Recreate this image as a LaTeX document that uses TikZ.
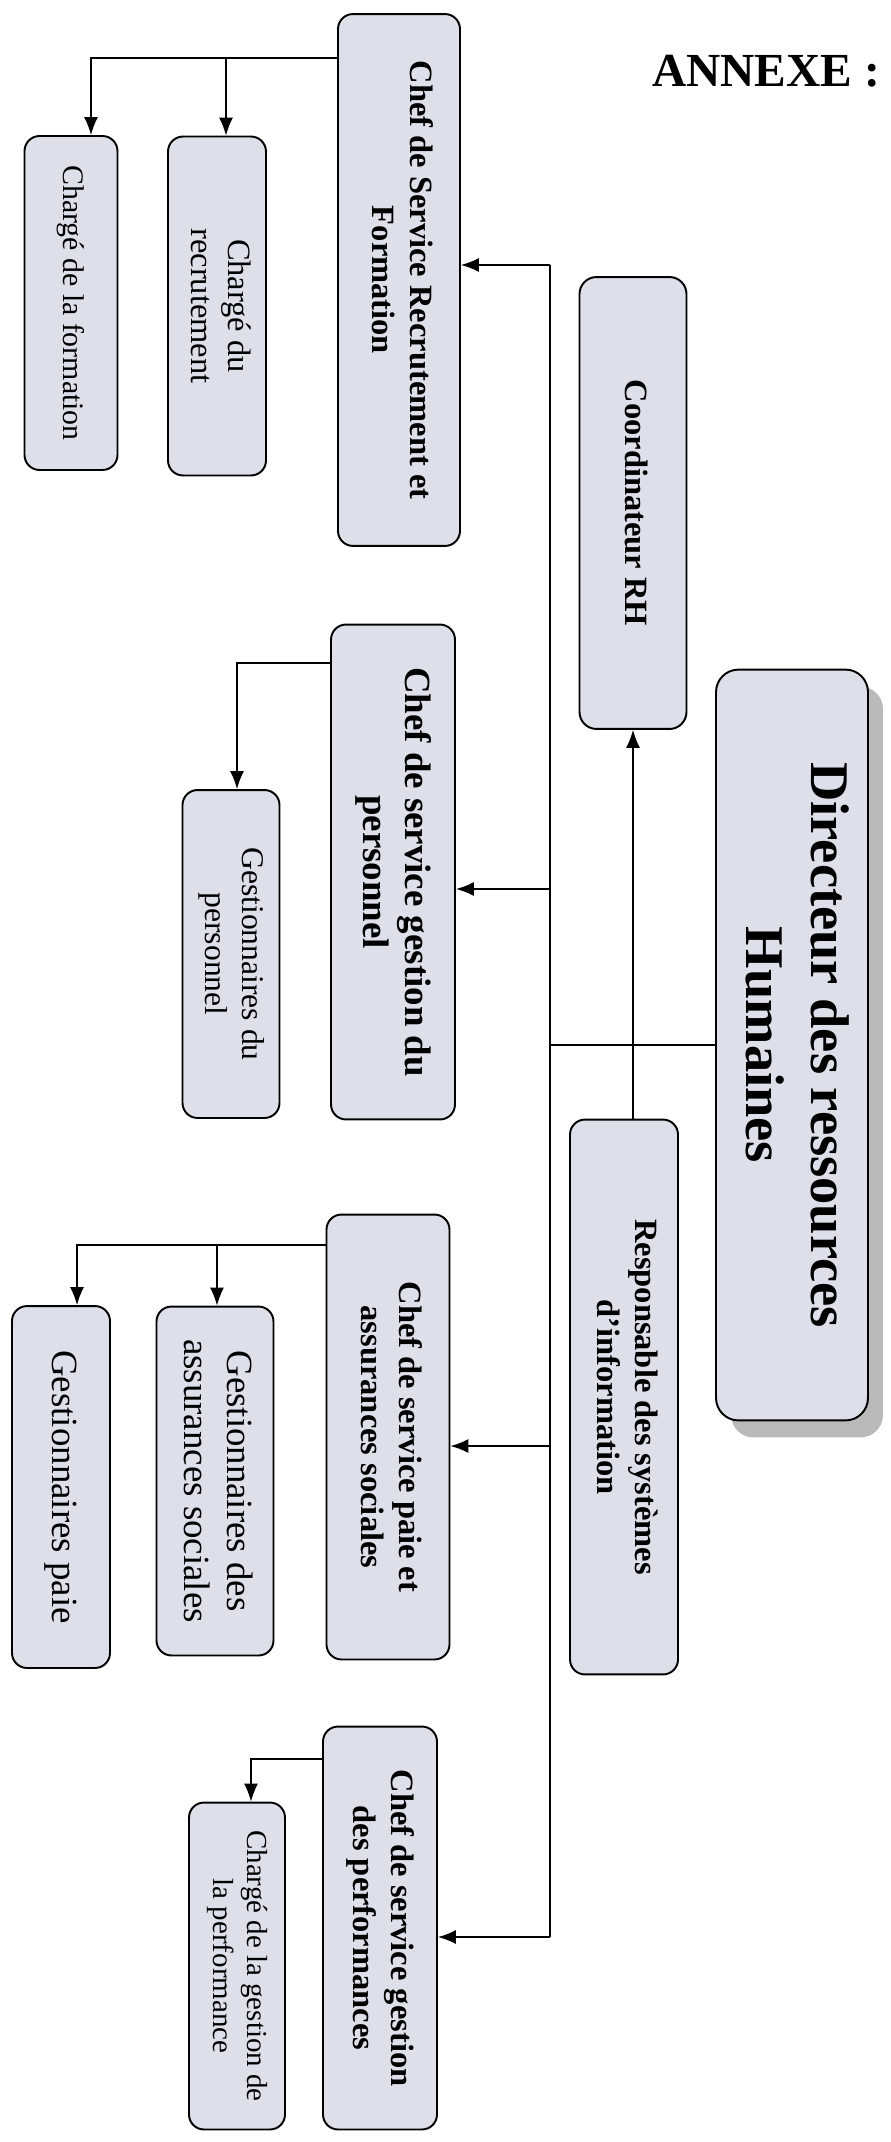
\documentclass[tikz,border=0pt]{standalone}
\usepackage{fontspec}
\setmainfont{Liberation Serif}
\usetikzlibrary{arrows.meta,shadows}

\definecolor{boxfill}{RGB}{221,224,233}
\newcommand{\vlabel}[1]{\rotatebox{-90}{\begin{tabular}{@{}c@{}}#1\end{tabular}}}

\begin{document}
\begin{tikzpicture}[
    x=0.02cm, y=-0.02cm,
    % Styles
    box/.style={draw=black, line width=1.1pt, fill=boxfill, rounded corners=0.3cm, inner sep=0pt, align=center},
    chief/.style={box, font=\fontsize{18.5}{21.5}\selectfont\bfseries},
    staff/.style={box, font=\fontsize{18}{21}\selectfont},
    link/.style={line width=0.8pt},
    arr/.style={-{Latex[length=3.6mm, width=2.8mm]}, line width=0.8pt},
]
\useasboundingbox (0,0) rectangle (890,2142);

% Title
\node[font=\fontsize{27}{30}\selectfont\bfseries] (annexe) at (766,71) {ANNEXE :};

% Direction
\node[box, rounded corners=0.45cm, minimum width=3.04cm, minimum height=15.02cm,
      font=\fontsize{31}{37}\selectfont\bfseries,
      drop shadow={shadow xshift=0.3cm, shadow yshift=-0.34cm, fill=black!27, opacity=1}]
      (dir) at (792,1045) {\vlabel{Directeur des ressources\\Humaines}};

\node[chief, rounded corners=0.34cm, minimum width=2.14cm, minimum height=9.04cm] (coord) at (633,503) {\vlabel{Coordinateur RH}};
\node[chief, minimum width=2.16cm, minimum height=11.1cm] (resp) at (624,1397) {\vlabel{Responsable des systèmes\\d’information}};
\draw[arr] (resp.north -| coord.south) -- (coord.south);

% Chefs de service
\node[chief, minimum width=2.44cm, minimum height=10.64cm] (chefrec) at (399,280) {\vlabel{Chef de Service Recrutement et\\Formation}};
\node[chief, font=\fontsize{21}{24}\selectfont\bfseries, minimum width=2.48cm, minimum height=9.9cm] (chefpers) at (393,872) {\vlabel{Chef de service gestion du\\personnel}};
\node[chief, minimum width=2.46cm, minimum height=8.9cm] (chefpaie) at (388,1437) {\vlabel{Chef de service paie et\\assurances sociales}};
\node[chief, minimum width=2.28cm, minimum height=8.06cm] (chefperf) at (380,1928) {\vlabel{Chef de service gestion\\des performances}};

% Bus from the director
\coordinate (bustop) at (550,265);
\coordinate (tappers) at (550,889);
\coordinate (tappaie) at (550,1446);
\coordinate (busbot) at (550,1937);
\draw[link] (dir.west) -- (dir.west -| bustop);
\draw[link] (bustop) -- (busbot);
\draw[arr] (bustop) -- (bustop -| chefrec.east);
\draw[arr] (tappers) -- (tappers -| chefpers.east);
\draw[arr] (tappaie) -- (tappaie -| chefpaie.east);
\draw[arr] (busbot) -- (busbot -| chefperf.east);

% Staff
\node[staff, font=\fontsize{17}{20}\selectfont, minimum width=1.86cm, minimum height=6.68cm] (chargeform) at (71,303) {\vlabel{Chargé de la formation}};
\node[staff, font=\fontsize{18.5}{21}\selectfont, minimum width=1.96cm, minimum height=6.78cm] (chargerec) at (217,306) {\vlabel{Chargé du\\recrutement}};
\node[staff, minimum width=1.94cm, minimum height=6.56cm] (gestpers) at (231,954) {\vlabel{Gestionnaires du\\personnel}};
\node[staff, font=\fontsize{21}{24.5}\selectfont, minimum width=1.96cm, minimum height=7.24cm] (gestpaie) at (61,1487) {\vlabel{Gestionnaires paie}};
\node[staff, font=\fontsize{21}{24.5}\selectfont, minimum width=2.34cm, minimum height=6.98cm] (gestass) at (215,1481) {\vlabel{Gestionnaires des\\assurances sociales}};
\node[staff, font=\fontsize{16.5}{19.5}\selectfont, minimum width=1.92cm, minimum height=6.54cm] (chargeperf) at (237,1966) {\vlabel{Chargé de la gestion de\\la performance}};

% Links to staff
\coordinate (recsplit) at (91,58);
\coordinate (recdrop) at (226,58);
\draw[arr] (chefrec.west |- recsplit) -| (chargeform.north -| recsplit);
\draw[arr] (recdrop) -- (chargerec.north -| recdrop);

\coordinate (perssplit) at (237,663);
\draw[arr] (chefpers.west |- perssplit) -| (gestpers.north -| perssplit);

\coordinate (paiesplit) at (77,1245);
\coordinate (assdrop) at (217,1245);
\draw[arr] (chefpaie.west |- paiesplit) -| (gestpaie.north -| paiesplit);
\draw[arr] (assdrop) -- (gestass.north -| assdrop);

\coordinate (perfsplit) at (251,1759);
\draw[arr] (chefperf.west |- perfsplit) -| (chargeperf.north -| perfsplit);

\end{tikzpicture}
\end{document}
